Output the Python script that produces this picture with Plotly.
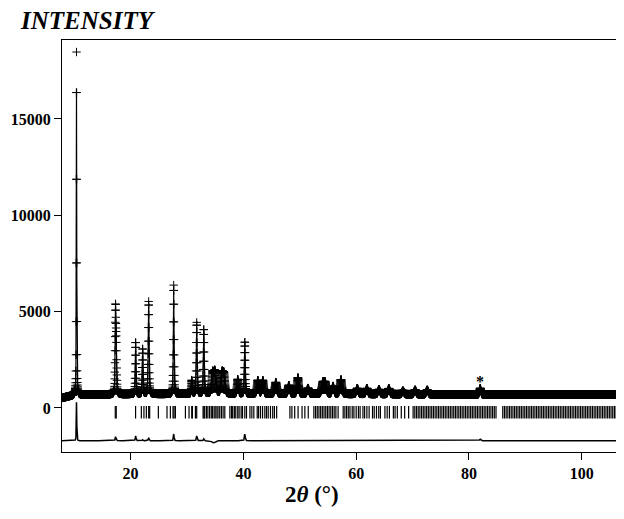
import numpy as np
import plotly.graph_objects as go

peak_pos = [10.40, 17.32, 17.46, 20.89, 22.13, 23.20, 27.64, 30.84, 31.72, 32.97,
            34.55, 34.95, 36.20, 36.55, 39.00, 40.25, 42.56, 43.45, 45.76, 48.07,
            49.67, 51.45, 54.10, 54.50, 55.90, 57.30, 60.20, 61.90, 64.05, 65.80,
            68.30, 70.45, 72.60, 82.00]
peak_obs = [17800, 4300, 2300, 2700, 2350, 4800, 5650, 700, 3700, 3350,
            1050, 1100, 1000, 950, 750, 2700, 700, 700, 600, 450,
            850, 300, 550, 550, 400, 750, 300, 300, 250, 300,
            180, 230, 230, 330]
peak_calc = [15800, 4100, 2250, 2450, 2300, 4650, 5300, 700, 3450, 3250,
             1150, 1200, 1000, 950, 750, 2350, 700, 700, 600, 450,
             850, 300, 550, 550, 400, 750, 300, 300, 250, 300,
             180, 230, 230, 250]
peak_fwhm = [0.10, 0.16, 0.16, 0.16, 0.16, 0.18, 0.16, 0.20, 0.18, 0.18,
             0.40, 0.40, 0.40, 0.40, 0.30, 0.18, 0.35, 0.35, 0.40, 0.40,
             0.35, 0.40, 0.45, 0.45, 0.40, 0.40, 0.40, 0.40, 0.40, 0.40,
             0.40, 0.40, 0.40, 0.30]

# background knots
bg_x = [7.8, 9.0, 10.5, 20, 40, 60, 80, 108]
bg_y = [520, 600, 680, 720, 730, 720, 700, 690]

# reflection markers (2theta)
refl = [17.28, 17.45, 20.88, 21.90, 22.36, 22.79, 23.20, 23.38, 24.92, 26.45, 27.05,
        27.52, 27.70, 27.94, 29.72, 30.36, 30.84, 30.96, 31.49, 31.72, 32.85, 33.0,
        33.14, 33.45, 33.7, 34.0, 34.3, 34.5, 34.8, 35.0, 35.3, 35.5, 35.8, 36.1, 36.4,
        36.7, 37.6, 37.9, 38.1, 38.4, 38.65, 39.0, 39.24, 39.6, 39.84, 40.25, 40.55,
        41.16, 41.5, 41.85, 42.45, 42.7, 43.04, 43.4, 43.8, 44.1, 44.4, 44.8, 45.2,
        45.5, 45.9, 48.25, 48.6, 49.1, 49.7, 50.4, 50.9, 51.5, 52.5, 52.8, 53.1, 53.4,
        53.7, 54.0, 54.3, 54.6, 54.9, 55.2, 55.5, 55.8, 56.1, 56.4, 56.8, 57.7, 58.0,
        58.3, 58.6, 58.9, 59.3, 59.6, 60.0, 60.4, 60.7, 61.2, 61.5, 61.9, 62.3, 62.9,
        63.2, 63.6, 64.0, 64.3, 65.1, 65.5, 65.9, 66.6, 66.9, 67.3, 68.0, 68.6, 69.3,
        70.1, 70.4, 70.7, 71.0, 71.3, 71.6, 71.9, 72.2, 72.5, 72.8, 73.1, 73.4, 73.7,
        74.0, 74.3, 74.6, 74.9, 75.2, 75.5, 75.8, 76.1, 76.4, 76.7, 77.0, 77.3, 77.6,
        77.9, 78.2, 78.5, 78.8, 79.1, 79.4, 79.7, 80.0, 80.3, 80.6, 80.9, 81.2, 81.5,
        81.8, 82.1, 82.4, 82.7, 83.0, 83.3, 83.6, 83.9, 84.2, 84.5, 84.8, 86.0, 86.3,
        86.6, 86.9, 87.2, 87.5, 87.8, 88.1, 88.4, 88.7, 89.0, 89.3, 89.6, 89.9, 90.2,
        90.5, 90.8, 91.1, 91.4, 91.7, 92.0, 92.3, 92.6, 92.9, 93.2, 93.5, 93.8, 94.1,
        94.4, 94.7, 95.0, 95.3, 95.6, 95.9, 96.2, 96.5, 96.8, 97.1, 97.4, 97.7, 98.0,
        98.3, 98.6, 98.9, 99.2, 99.5, 99.8, 100.1, 100.4, 100.7, 101.0, 101.3, 101.6,
        101.9, 102.2, 102.5, 102.8, 103.1, 103.4, 103.7, 104.0, 104.3, 104.6, 104.9,
        105.2, 105.5, 105.8, 106.1, 106.4, 106.7, 107.0, 107.3]

y_ticks = [0, 5000, 10000, 15000]
x_ticks = [20, 40, 60, 80, 100]

diff_offset = -1700
tick_level = -220

tt = np.arange(7.8, 107.6, 0.02)
bg = np.interp(tt, bg_x, bg_y)


def profile(heights):
    y = bg.copy()
    for p, h, w in zip(peak_pos, heights, peak_fwhm):
        g = np.exp(-4 * np.log(2) * ((tt - p) / w) ** 2)
        l = 1 / (1 + 4 * ((tt - p) / w) ** 2)
        y += h * (0.6 * g + 0.4 * l)
    return y


obs = profile(peak_obs)
calc = profile(peak_calc)
diff = obs - calc + diff_offset

fig = go.Figure()
fig.add_trace(go.Scatter(
    x=tt, y=obs, mode="markers",
    marker=dict(symbol="cross-thin", size=6, line=dict(width=1, color="black")),
))
fig.add_trace(go.Scatter(x=tt, y=calc, mode="lines", line=dict(color="black", width=1.2)))
fig.add_trace(go.Scatter(
    x=refl, y=[tick_level] * len(refl), mode="markers",
    marker=dict(symbol="line-ns", size=9, line=dict(width=1.2, color="black")),
))
fig.add_trace(go.Scatter(x=tt, y=diff, mode="lines", line=dict(color="black", width=1.5)))

font = dict(family="Liberation Serif", color="black")
fig.update_layout(
    width=616, height=503,
    margin=dict(l=54, r=0, t=32, b=59),
    paper_bgcolor="white", plot_bgcolor="white",
    showlegend=False,
    font=dict(**font, size=15),
    xaxis=dict(range=[7.83, 107.5], tickvals=x_ticks, ticktext=[str(v) for v in x_ticks],
               ticks="outside", ticklen=7, tickwidth=1, tickcolor="black",
               showline=True, linecolor="black", linewidth=1, mirror=True,
               showgrid=False, zeroline=False,
               tickfont=dict(**font, size=16, weight="bold")),
    yaxis=dict(range=[-2284, 19100], tickvals=y_ticks, ticktext=[str(v) for v in y_ticks],
               ticks="outside", ticklen=7, tickwidth=1, tickcolor="black",
               showline=True, linecolor="black", linewidth=1,
               showgrid=False, zeroline=False,
               tickfont=dict(**font, size=16, weight="bold")),
)
fig.add_annotation(text="<b><i>INTENSITY</i></b>", xref="paper", yref="paper",
                   x=-0.078, y=1.0, yshift=4, xanchor="left", yanchor="bottom",
                   showarrow=False, font=dict(**font, size=25))
fig.add_annotation(text="<b>2<i>θ</i> (°)</b>", xref="paper", yref="paper",
                   x=0.445, y=0, yshift=-28, xanchor="center", yanchor="top",
                   showarrow=False, font=dict(**font, size=23))
fig.add_annotation(text="<b>*</b>", x=82.0, y=1400, showarrow=False,
                   font=dict(**font, size=16))

fig.write_html("out.html")
